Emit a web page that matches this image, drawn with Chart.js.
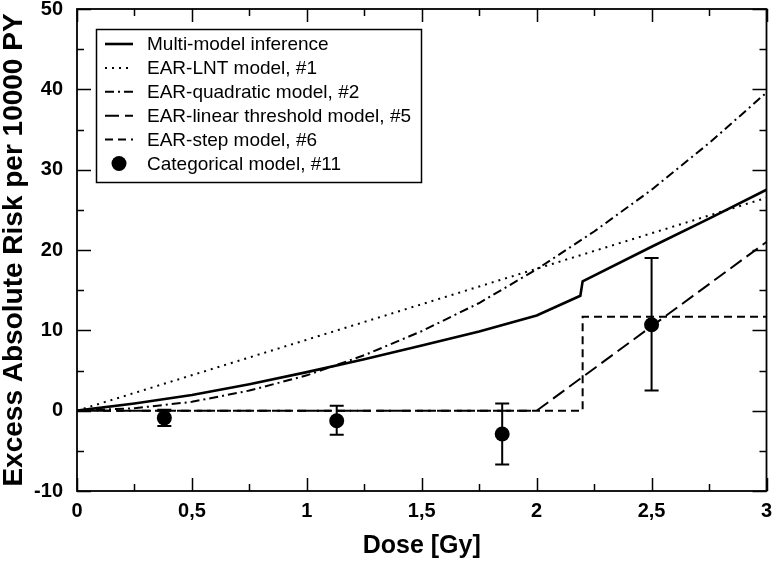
<!DOCTYPE html>
<html>
<head>
<meta charset="utf-8">
<script src="https://cdn.jsdelivr.net/npm/chart.js@4/dist/chart.umd.min.js"></script>
<style>
    html, body { margin: 0; padding: 0; background: #fff; }
    #wrap { width: 774px; height: 563px; }
</style>
</head>
<body>
<div id="wrap"><canvas id="grafico" width="774" height="563"></canvas></div>
<script>
// Dados
const doseMulti = [0, 0.25, 0.5, 0.75, 1, 1.25, 1.5, 1.75, 2, 2.19, 2.2, 2.5, 2.75, 3];
const riscoMulti = [0, 0.9, 1.95, 3.3, 4.8, 6.4, 8.1, 9.85, 11.85, 14.3, 16.1, 20.4, 23.9, 27.5];

const doseLnt = [0, 3];
const riscoLnt = [0, 26.5];

const doseQuad = [0, 0.25, 0.5, 0.75, 1, 1.25, 1.5, 1.75, 2, 2.25, 2.5, 2.75, 3];
const riscoQuad = [0, 0.3, 1.1, 2.5, 4.4, 6.9, 9.9, 13.4, 17.6, 22.3, 27.5, 33.3, 39.6];

const doseLimiar = [0, 2, 3];
const riscoLimiar = [0, 0, 21];

const doseDegrau = [0, 2.2, 2.2, 3];
const riscoDegrau = [0, 0, 11.7, 11.7];

const doseCateg = [0.38, 1.13, 1.85, 2.5];
const riscoCateg = [-0.9, -1.25, -2.9, 10.7];
const erroInferior = [-1.9, -3.0, -6.7, 2.5];
const erroSuperior = [0.1, 0.6, 0.9, 19.0];

const ticksX = [0, 0.5, 1, 1.5, 2, 2.5, 3];
const ticksY = [-10, 0, 10, 20, 30, 40, 50];

const rotulos = [
    'Multi-model inference',
    'EAR-LNT model, #1',
    'EAR-quadratic model, #2',
    'EAR-linear threshold model, #5',
    'EAR-step model, #6',
    'Categorical model, #11'
];

function pontos(xs, ys) {
    return xs.map((x, i) => ({ x: x, y: ys[i] }));
}

function linha(label, xs, ys, dash, largura) {
    return {
        label: label,
        data: pontos(xs, ys),
        showLine: true,
        borderColor: '#000',
        borderWidth: largura,
        borderDash: dash,
        pointRadius: 0,
        tension: 0,
        fill: false
    };
}

const fonte = '"Liberation Sans", Arial, Helvetica, sans-serif';
Chart.defaults.font.family = fonte;
Chart.defaults.color = '#000';

// Moldura e marcas internas dos eixos
const molduraPlugin = {
    id: 'moldura',
    afterDraw(chart) {
        const ctx = chart.ctx;
        const a = chart.chartArea;
        const sx = chart.scales.x;
        const sy = chart.scales.y;
        ctx.save();
        ctx.strokeStyle = '#000';
        ctx.lineWidth = 1.8;
        ctx.setLineDash([]);
        ctx.strokeRect(a.left, a.top, a.right - a.left, a.bottom - a.top);
        ctx.lineWidth = 1.5;
        ctx.beginPath();
        for (let v = 0; v <= 3.001; v += 0.25) {
            const px = Math.round(sx.getPixelForValue(v)) + 0.5;
            const len = Math.abs(v * 2 - Math.round(v * 2)) < 0.01 ? 13 : 7;
            ctx.moveTo(px, a.bottom); ctx.lineTo(px, a.bottom - len);
            ctx.moveTo(px, a.top); ctx.lineTo(px, a.top + len);
        }
        for (let v = -10; v <= 50; v += 5) {
            const py = Math.round(sy.getPixelForValue(v)) + 0.5;
            const len = v % 10 === 0 ? 14 : 7;
            ctx.moveTo(a.left, py); ctx.lineTo(a.left + len, py);
            ctx.moveTo(a.right, py); ctx.lineTo(a.right - len, py);
        }
        ctx.stroke();
        ctx.restore();
    }
};

// Barras de erro do modelo categórico
const errosPlugin = {
    id: 'erros',
    afterDatasetsDraw(chart) {
        const ctx = chart.ctx;
        const sx = chart.scales.x;
        const sy = chart.scales.y;
        ctx.save();
        ctx.strokeStyle = '#000';
        ctx.lineWidth = 2;
        ctx.setLineDash([]);
        ctx.beginPath();
        doseCateg.forEach((d, i) => {
            const px = sx.getPixelForValue(d);
            const y1 = sy.getPixelForValue(erroInferior[i]);
            const y2 = sy.getPixelForValue(erroSuperior[i]);
            ctx.moveTo(px, y1); ctx.lineTo(px, y2);
            ctx.moveTo(px - 7, y1); ctx.lineTo(px + 7, y1);
            ctx.moveTo(px - 7, y2); ctx.lineTo(px + 7, y2);
        });
        ctx.stroke();
        ctx.restore();
    }
};

// Legenda desenhada dentro da área do gráfico
const legendaPlugin = {
    id: 'legenda',
    afterDraw(chart) {
        const ctx = chart.ctx;
        const caixa = { x: 96.5, y: 29.5, w: 325, h: 153 };
        ctx.save();
        ctx.fillStyle = '#fff';
        ctx.fillRect(caixa.x, caixa.y, caixa.w, caixa.h);
        ctx.strokeStyle = '#000';
        ctx.lineWidth = 1.5;
        ctx.setLineDash([]);
        ctx.strokeRect(caixa.x, caixa.y, caixa.w, caixa.h);
        ctx.font = '19px ' + fonte;
        ctx.textBaseline = 'middle';
        ctx.textAlign = 'left';
        ctx.fillStyle = '#000';
        chart.data.datasets.forEach((ds, i) => {
            const y = 44 + i * 23.9;
            if (ds.showLine) {
                ctx.lineWidth = ds.borderWidth;
                ctx.setLineDash(ds.borderDash || []);
                ctx.beginPath();
                ctx.moveTo(105, y);
                ctx.lineTo(133, y);
                ctx.stroke();
            } else {
                ctx.beginPath();
                ctx.arc(119, y, 7.5, 0, Math.PI * 2);
                ctx.fill();
            }
            ctx.setLineDash([]);
            ctx.fillText(rotulos[i], 147, y + 1);
        });
        ctx.restore();
    }
};

const config = {
    type: 'scatter',
    data: {
        datasets: [
            linha(rotulos[0], doseMulti, riscoMulti, [], 2.6),
            linha(rotulos[1], doseLnt, riscoLnt, [2, 5], 2),
            linha(rotulos[2], doseQuad, riscoQuad, [9, 4, 2, 4], 2),
            linha(rotulos[3], doseLimiar, riscoLimiar, [14, 6], 2),
            linha(rotulos[4], doseDegrau, riscoDegrau, [8, 5], 2),
            {
                label: rotulos[5],
                data: pontos(doseCateg, riscoCateg),
                showLine: false,
                pointRadius: 7.5,
                pointHoverRadius: 7.5,
                backgroundColor: '#000',
                borderColor: '#000',
                borderWidth: 0
            }
        ]
    },
    options: {
        responsive: false,
        animation: false,
        layout: { padding: { left: 0, right: 7, top: 9, bottom: 0 } },
        plugins: {
            legend: { display: false },
            tooltip: { enabled: false }
        },
        scales: {
            x: {
                type: 'linear',
                min: 0,
                max: 3,
                afterFit: s => { s.height = 72; s.paddingLeft = 0; s.paddingRight = 0; },
                afterBuildTicks: s => { s.ticks = ticksX.map(v => ({ value: v })); },
                grid: { display: false, drawTicks: false },
                border: { display: false },
                ticks: {
                    padding: 8,
                    font: { size: 20, weight: 'bold' },
                    callback: v => String(v).replace('.', ',')
                },
                title: {
                    display: true,
                    text: 'Dose [Gy]',
                    font: { size: 25, weight: 'bold', lineHeight: 1 },
                    padding: { top: 0, bottom: 4 }
                }
            },
            y: {
                type: 'linear',
                min: -10,
                max: 50,
                afterFit: s => { s.width = 77; s.paddingTop = 0; s.paddingBottom = 0; },
                afterBuildTicks: s => { s.ticks = ticksY.map(v => ({ value: v })); },
                grid: { display: false, drawTicks: false },
                border: { display: false },
                ticks: {
                    padding: 14,
                    font: { size: 20, weight: 'bold' }
                },
                title: {
                    display: true,
                    text: 'Excess Absolute Risk per 10000 PY',
                    font: { size: 28, weight: 'bold', lineHeight: 1 },
                    padding: { top: 0, bottom: 0 }
                }
            }
        }
    },
    plugins: [errosPlugin, molduraPlugin, legendaPlugin]
};

new Chart(document.getElementById('grafico'), config);
</script>
</body>
</html>
